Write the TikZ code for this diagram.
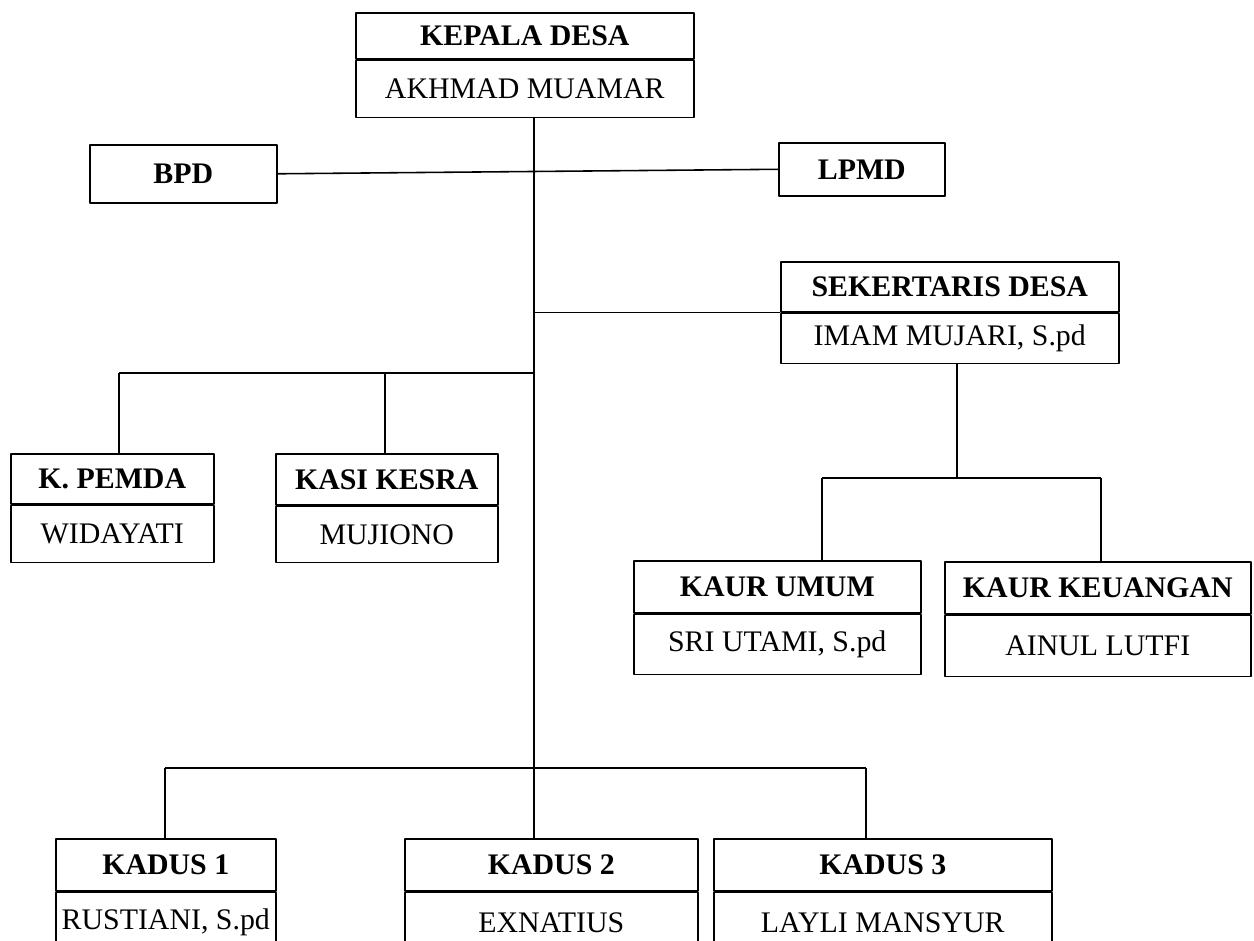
\documentclass[tikz,border=0pt]{standalone}
\usepackage{fontspec}
\setmainfont{Liberation Serif}
\begin{document}
\begin{tikzpicture}[x=0.02cm, y=-0.02cm, line width=0.9pt, line join=round,
  font=\fontsize{17}{20}\selectfont,
  judul/.style={draw, font=\fontsize{17}{20}\selectfont\bfseries, anchor=north west,
    inner sep=0pt, minimum width=#1*0.02cm, minimum height=1cm},
  nama/.style={draw, anchor=north, inner sep=0pt, minimum width=#1*0.02cm, minimum height=1.14cm}]
\clip (0,0) rectangle (1254,940);
\foreach \p/\x/\y/\w/\a/\b/\j/\n in {
  kades/355/12/338/46/57/{KEPALA DESA}/{AKHMAD MUAMAR},
  sekdes/780/261/338/50/50/{SEKERTARIS DESA}/{IMAM MUJARI, S.pd},
  pemda/10/453/203/50/57/{K. PEMDA}/{WIDAYATI},
  kesra/275/453/222/51/56/{KASI KESRA}/{MUJIONO},
  umum/633/560/287/52/60/{KAUR UMUM}/{SRI UTAMI, S.pd},
  keuangan/944/561/306/52/61/{KAUR KEUANGAN}/{AINUL LUTFI},
  kadus1/55/838/220/52/60/{KADUS 1}/{RUSTIANI, S.pd},
  kadus2/404/838/293/52/60/{KADUS 2}/{EXNATIUS},
  kadus3/713/838/338/52/60/{KADUS 3}/{LAYLI MANSYUR}}
{\node[judul=\w, minimum height=\a*0.02cm] (\p) at (\x,\y) {\j};
 \node[nama=\w, minimum height=\b*0.02cm] (\p-nm) at (\p.south) {\n};}
\node[judul=187, minimum height=1.16cm] (bpd) at (89,144) {BPD};
\node[judul=166, minimum height=1.06cm] (lpmd) at (778,142) {LPMD};
\path
(534,0) coordinate (b0)
(119,373) coordinate (c1)
(385,373) coordinate (c2)
(957,478) coordinate (s0)
(822,478) coordinate (s1)
(1101,478) coordinate (s2)
(165,768) coordinate (d1)
(866,768) coordinate (d3)
;
\draw (bpd.east) -- (lpmd.west);
\draw (kades-nm.south -| b0) -- (kadus2.north -| b0);
\draw (sekdes.south west -| b0) -- (sekdes.south west);
\draw (c1) -- (c1 -| b0) (c1) -- (c1 |- pemda.north) (c2) -- (c2 |- kesra.north);
\draw (sekdes-nm.south -| s0) -- (s0) (s1) -- (s2) (s1) -- (s1 |- umum.north) (s2) -- (s2 |- keuangan.north);
\draw (d1) -- (d3) (d1) -- (d1 |- kadus1.north) (d3) -- (d3 |- kadus3.north);
\end{tikzpicture}
\end{document}
